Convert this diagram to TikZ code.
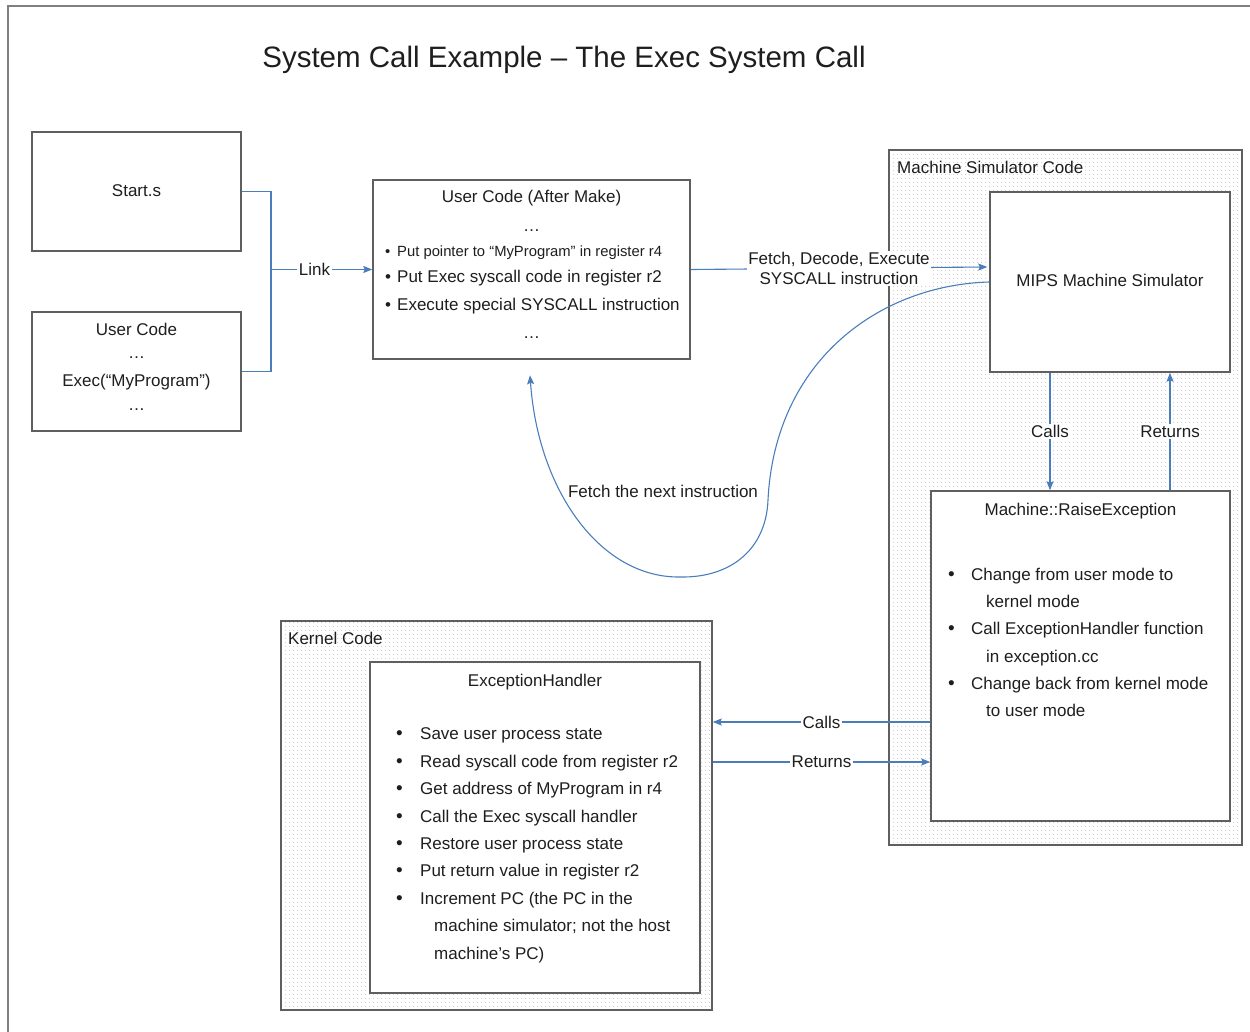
\documentclass[tikz,border=0pt]{standalone}
\usepackage{fontspec}
\setmainfont{Liberation Sans}
\usetikzlibrary{arrows.meta,calc,patterns.meta}

\definecolor{connc}{RGB}{74,126,187}
\definecolor{boxline}{RGB}{95,95,95}
\definecolor{frameline}{RGB}{128,128,128}
\definecolor{txtc}{RGB}{30,30,30}

\tikzdeclarepattern{
  name=simdots,
  type=uncolored,
  bounding box={(0pt,0pt) and (4pt,4pt)},
  tile size={(4pt,4pt)},
  code={\pgfpathcircle{\pgfpoint{2pt}{2pt}}{0.6pt}\pgfusepath{fill}}
}

\newcommand{\bigbul}[1]{\makebox[#1][l]{\fontsize{19}{19}\selectfont •}}

\begin{document}
\begin{tikzpicture}[x=1pt,y=-1pt,
  every node/.style={text=txtc},
  box/.style={draw=boxline,line width=1.5pt,fill=white,inner sep=0pt},
  area/.style={draw=boxline,line width=1.5pt,pattern={simdots},pattern color=black!25,inner sep=0pt},
  t/.style={font=\fontsize{17}{20}\selectfont,inner sep=0pt,anchor=base},
  tl/.style={t,anchor=base west},
  ts/.style={font=\fontsize{14.8}{18}\selectfont,inner sep=0pt,anchor=base west},
  wire/.style={draw=connc,line width=1.1pt},
  arr/.style={wire,-{Stealth[length=9pt,width=7pt,inset=1.5pt]}},
  lbl/.style={font=\fontsize{17}{20}\selectfont,fill=white,inner sep=1.5pt}
]
\useasboundingbox (0,0) rectangle (1250,1032);
\fill[white] (0,0) rectangle (1250,1032);
\draw[frameline,line width=2pt] (8,1032) -- (8,6) -- (1250,6);

\node[font=\fontsize{29.5}{34}\selectfont,anchor=base,inner sep=0pt] (title) at (564,68) {System Call Example – The Exec System Call};

% left boxes
\node[box,minimum width=209pt,minimum height=119pt] (start) at (136.5,191.5) {};
\node[t] (startlbl) at (136.5,197) {Start.s};

\node[box,minimum width=209pt,minimum height=119pt] (uc) at (136.5,371.5) {};
\node[t] (uc1) at (136.5,335) {User Code};
\node[t] (uc2) at (136.5,358.5) {…};
\node[t] (uc3) at (136.5,386) {Exec(“MyProgram”)};
\node[t] (uc4) at (136.5,410) {…};

% user code after make
\node[box,minimum width=317pt,minimum height=179pt] (ucam) at (531.5,269.5) {};
\node[t] (ua1) at (531.5,203) {User Code (After Make)};
\node[t] (ua2) at (531.5,232) {…};
\node[ts] (ua3) at (385,257) {\makebox[12pt][l]{•}Put pointer to “MyProgram” in register r4};
\node[tl] (ua4) at (385,283) {\makebox[12pt][l]{•}Put Exec syscall code in register r2};
\node[tl] (ua5) at (385,310) {\makebox[12pt][l]{•}Execute special SYSCALL instruction};
\node[t] (ua6) at (531.5,338) {…};

% machine simulator code
\node[area,minimum width=353pt,minimum height=695pt] (msc) at (1065.5,497.5) {};
\node[tl] (msclbl) at (897,174) {Machine Simulator Code};
\node[box,minimum width=240pt,minimum height=180pt] (mips) at (1110,282) {};
\node[t] (mipslbl) at (1110,287) {MIPS Machine Simulator};
\node[box,minimum width=299pt,minimum height=330pt] (raise) at (1080.5,656) {};
\node[t] (rx0) at (1080.5,515) {Machine::RaiseException};
\node[tl] (rx1) at (948,580) {\bigbul{23pt}Change from user mode to};
\node[tl] (rx2) at (986,607) {kernel mode};
\node[tl] (rx3) at (948,634.5) {\bigbul{23pt}Call ExceptionHandler function};
\node[tl] (rx4) at (986,662) {in exception.cc};
\node[tl] (rx5) at (948,689) {\bigbul{23pt}Change back from kernel mode};
\node[tl] (rx6) at (986,716) {to user mode};

% kernel code
\node[area,minimum width=431pt,minimum height=389pt] (kern) at (496.5,815.5) {};
\node[tl] (kernlbl) at (288,644) {Kernel Code};
\node[box,minimum width=330pt,minimum height=331pt] (eh) at (535,827.5) {};
\node[t] (eh0) at (535,686) {ExceptionHandler};
\node[tl] (eh1) at (396,739.5) {\bigbul{24pt}Save user process state};
\node[tl] (eh2) at (396,767) {\bigbul{24pt}Read syscall code from register r2};
\node[tl] (eh3) at (396,794.5) {\bigbul{24pt}Get address of MyProgram in r4};
\node[tl] (eh4) at (396,822) {\bigbul{24pt}Call the Exec syscall handler};
\node[tl] (eh5) at (396,849) {\bigbul{24pt}Restore user process state};
\node[tl] (eh6) at (396,876.5) {\bigbul{24pt}Put return value in register r2};
\node[tl] (eh7) at (396,904) {\bigbul{24pt}Increment PC (the PC in the};
\node[tl] (eh8) at (434,931.5) {machine simulator; not the host};
\node[tl] (eh9) at (434,959) {machine’s PC)};

% connectors
\coordinate (lj) at (271,269.5);
\draw[wire] (start.east) -| (lj);
\draw[wire] (uc.east) -| (lj);
\draw[arr] (lj) -- (ucam.west) node[lbl,pos=0.43] (linklbl) {Link};

\coordinate (fde) at ($(mips.west)+(-2,-15)$);
\draw[arr] (ucam.east) -- (fde) node[lbl,midway,align=center] (fdelbl) {Fetch, Decode, Execute\\SYSCALL instruction};

\coordinate (cdn) at ($(mips.south)+(-60,0)$);
\coordinate (cup) at ($(mips.south)+(60,0)$);
\draw[arr] (cdn) -- (cdn |- raise.north) node[lbl,midway] (callslbl1) {Calls};
\draw[arr] (cup |- raise.north) -- (cup) node[lbl,midway] (retlbl1) {Returns};

\coordinate (callR) at ($(raise.west)+(0,66)$);
\draw[arr] (callR) -- (kern.east |- callR) node[lbl,midway] (callslbl2) {Calls};
\coordinate (retR) at ($(raise.west)+(0,106)$);
\draw[arr] (kern.east |- retR) -- (retR) node[lbl,midway] (retlbl2) {Returns};

\coordinate (fnx) at ($(ucam.south)+(-1.5,15.5)$);
\draw[arr] (mips.west) .. controls (880,285) and (775,360) .. (768,500)
  .. controls (766,550) and (730,578) .. (680,577)
  .. controls (600,578) and (538,490) .. (fnx);
\node[t] (fnxlbl) at (663,497) {Fetch the next instruction};
\end{tikzpicture}
\end{document}
